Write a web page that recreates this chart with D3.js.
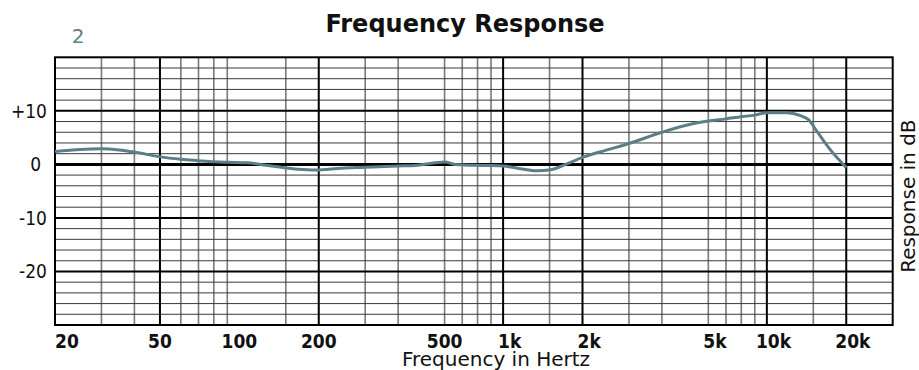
<!DOCTYPE html>
<html>
<head>
<meta charset="utf-8">
<script src="https://cdn.jsdelivr.net/npm/d3@7"></script>
<style>
  body { margin: 0; background: #fff; }
  text { font-family: "DejaVu Sans", sans-serif; }
  .cond { font-family: "DejaVu Sans Condensed", "DejaVu Sans", sans-serif; font-stretch: condensed; }
</style>
</head>
<body>
<div id="chart"></div>
<script>
const freqs = [20, 25, 30, 35, 40, 50, 60, 70, 80, 90, 107, 123, 137, 167, 194, 245, 300, 400, 464, 553, 600, 658, 855,
  1000, 1161, 1343, 1500, 1746, 2000, 2478, 3000, 4000, 5130, 6000, 7000, 8000, 9000, 10000, 11940, 13400, 14420, 15520, 17420, 20000];
const levels = [2.4, 2.8, 2.9, 2.7, 2.3, 1.4, 0.95, 0.7, 0.5, 0.4, 0.3, -0.1, -0.4, -0.9, -1.05, -0.7, -0.55, -0.3, -0.2, 0.3, 0.45, 0.0, -0.2,
  -0.3, -0.8, -1.2, -1.05, 0.1, 1.3, 2.7, 3.9, 6.0, 7.5, 8.1, 8.5, 8.9, 9.2, 9.65, 9.65, 9.1, 8.3, 6.1, 2.7, -0.6];

// grid lines as drawn on the original sheet
const minorFreqs = [30, 40, 60, 70, 80, 90, 150, 300, 400, 600, 700, 800, 900, 1500, 3000, 4000, 6000, 7000, 8000, 9000, 15000];
const majorFreqs = [50, 200, 1000, 2000, 10000, 20000];
const tickFreqs = [20, 50, 100, 200, 600, 1000, 2000, 6000, 10000, 20000];
const tickLabels = ["20", "50", "100", "200", "500", "1k", "2k", "5k", "10k", "20k"];
const dbTicks = [10, 0, -10, -20];
const dbLabels = ["+10", "0", "-10", "-20"];

const width = 919, height = 370;
const curveColor = "#5b7f89";

const svg = d3.select("#chart").append("svg")
  .attr("width", width)
  .attr("height", height);

const x = d3.scaleLog().domain([20, 30000]).range([55, 892.7]);
const y = d3.scaleLinear().domain([-30, 20]).range([325, 57.3]);

const grid = svg.append("g");

// minor vertical lines
grid.selectAll(".vminor")
  .data(minorFreqs)
  .join("line")
  .attr("x1", d => x(d)).attr("x2", d => x(d))
  .attr("y1", y(20)).attr("y2", y(-30))
  .attr("stroke", "#7a7a7a")
  .attr("stroke-width", 1.6);

// horizontal lines every 2 dB
grid.selectAll(".hline")
  .data(d3.range(-28, 20, 2))
  .join("line")
  .attr("x1", x(20)).attr("x2", x(30000))
  .attr("y1", d => y(d)).attr("y2", d => y(d))
  .attr("stroke", d => d % 10 === 0 ? "#000" : "#3a3a3a")
  .attr("stroke-width", d => d === 0 ? 3 : (d % 10 === 0 ? 2 : 1));

// major vertical lines
grid.selectAll(".vmajor")
  .data(majorFreqs)
  .join("line")
  .attr("x1", d => x(d)).attr("x2", d => x(d))
  .attr("y1", y(20)).attr("y2", y(-30))
  .attr("stroke", "#000")
  .attr("stroke-width", 2);

// frame
svg.append("rect")
  .attr("x", x(20)).attr("y", y(20))
  .attr("width", x(30000) - x(20))
  .attr("height", y(-30) - y(20))
  .attr("fill", "none")
  .attr("stroke", "#000")
  .attr("stroke-width", 2);

// response curve
const line = d3.line()
  .x((d, i) => x(freqs[i]))
  .y(d => y(d))
  .curve(d3.curveMonotoneX);

svg.append("path")
  .datum(levels)
  .attr("d", line)
  .attr("fill", "none")
  .attr("stroke", curveColor)
  .attr("stroke-width", 3)
  .attr("stroke-linejoin", "round");

// x tick labels
svg.selectAll(".xlab")
  .data(tickFreqs)
  .join("text")
  .attr("class", "cond")
  .attr("x", d => x(d))
  .attr("y", 348)
  .attr("dx", (d, i) => tickLabels[i].endsWith("k") ? "0.35em" : 0)
  .attr("text-anchor", (d, i) => i === 0 ? "start" : "middle")
  .attr("font-size", 19)
  .attr("font-weight", "bold")
  .attr("fill", "#111")
  .text((d, i) => tickLabels[i]);

// y tick labels
svg.selectAll(".ylab")
  .data(dbTicks)
  .join("text")
  .attr("class", "cond")
  .attr("x", 47)
  .attr("y", d => y(d))
  .attr("dy", "0.36em")
  .attr("dx", d => d === 0 ? -6 : 0)
  .attr("text-anchor", "end")
  .attr("font-size", 19)
  .attr("fill", "#111")
  .text((d, i) => dbLabels[i]);

// titles
svg.append("text")
  .attr("x", 465).attr("y", 32)
  .attr("text-anchor", "middle")
  .attr("font-size", 24)
  .attr("font-weight", "bold")
  .attr("fill", "#111")
  .text("Frequency Response");

svg.append("text")
  .attr("x", 78).attr("y", 43)
  .attr("text-anchor", "middle")
  .attr("font-size", 20)
  .attr("fill", curveColor)
  .text("2");

svg.append("text")
  .attr("x", 496).attr("y", 366)
  .attr("text-anchor", "middle")
  .attr("font-size", 20)
  .attr("fill", "#111")
  .text("Frequency in Hertz");

svg.append("text")
  .attr("transform", `translate(915, ${(y(20) + y(-30)) / 2 + 5}) rotate(-90)`)
  .attr("text-anchor", "middle")
  .attr("font-size", 20)
  .attr("fill", "#111")
  .text("Response in dB");
</script>
</body>
</html>
